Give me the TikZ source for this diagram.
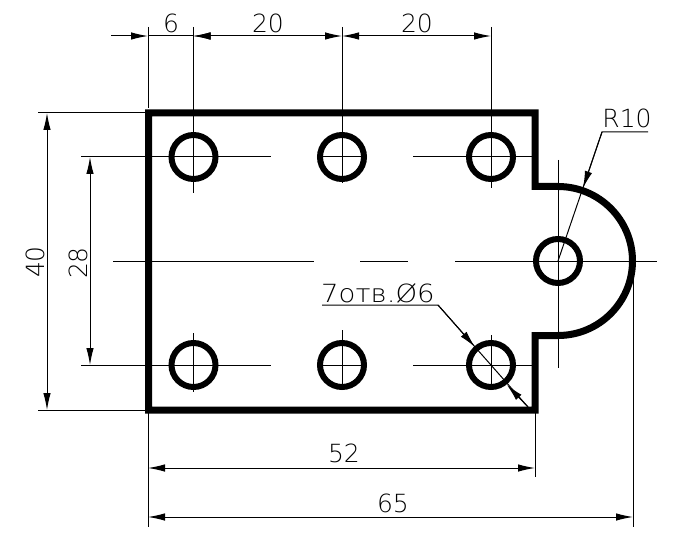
\documentclass[tikz,border=0pt]{standalone}
\usepackage{fontspec}
\setmainfont{DejaVu Sans ExtraLight}
\usepackage{tikz}
\usetikzlibrary{arrows.meta}

\tikzset{
  part/.style={line width=7pt, miter limit=10},
  hole/.style={line width=6pt},
  thin line/.style={line width=1pt},
  dim/.style={line width=1pt, {Latex[length=17pt,width=7.5pt]}-{Latex[length=17pt,width=7.5pt]}},
  lbl/.style={inner sep=0pt, font=\fontsize{25}{25}\selectfont}
}

\begin{document}
\begin{tikzpicture}[x=1pt, y=-1pt]
\useasboundingbox (0,0) rectangle (680,548);

% outline
\draw[part] (148.5,113) -- (535,113) -- (535,186.5) -- (558,186.5) arc (-90:90:74.5) -- (535,335.5) -- (535,410) -- (148.5,410) -- cycle;

% holes
\foreach \hx/\hy/\hname in {193.5/157/ha, 342/157/hb, 491/157/hc, 193.5/365/hd, 342/365/he, 491/365/hf, 558/261/hg} {
  \coordinate (\hname) at (\hx,\hy);
  \draw[hole] (\hname) circle (22);
}

% center lines
\draw[thin line] (81,157) -- (271,157);
\draw[thin line] (413,157) -- (535,157);
\draw[thin line] (318,157) -- (366,157);
\draw[thin line] (81,365) -- (271,365);
\draw[thin line] (413,365) -- (535,365);
\draw[thin line] (318,365) -- (366,365);
\draw[thin line] (113,261) -- (314,261);
\draw[thin line] (360,261) -- (408,261);
\draw[thin line] (455,261) -- (657,261);
\draw[thin line] (193.5,27) -- (193.5,193);
\draw[thin line] (342,27) -- (342,183);
\draw[thin line] (491,27) -- (491,188);
\draw[thin line] (193.5,333) -- (193.5,392);
\draw[thin line] (342,330) -- (342,390);
\draw[thin line] (491,335) -- (491,390);
\draw[thin line] (558,160) -- (558,368);

% extension lines
\draw[thin line] (148,27) -- (148,108);
\draw[thin line] (38,113) -- (145,113);
\draw[thin line] (38,410) -- (145,410);
\draw[thin line] (148,413) -- (148,527);
\draw[thin line] (535,413) -- (535,477);
\draw[thin line] (633,261) -- (633,527);

% dimensions
\coordinate (top6a) at (148,36);
\coordinate (top6b) at (193.5,36);
\coordinate (top20a) at (342,36);
\coordinate (top20b) at (491,36);
\draw[thin line, -{Latex[length=17pt,width=7.5pt]}] (111,36) -- (top6a);
\draw[thin line, -{Latex[length=17pt,width=7.5pt]}] (213,36) -- (top6b);
\draw[thin line] (top6a) -- (top6b);
\draw[dim] (top6b) -- (top20a);
\draw[dim] (top20a) -- (top20b);
\draw[dim] (47,113) -- (47,410);
\draw[dim] (90,157) -- (90,365);
\draw[dim] (148,468) -- (535,468);
\draw[dim] (148,517) -- (633,517);

% leaders
\coordinate (rbend) at (602,132);
\draw[thin line] (hg) -- (rbend) -- (648,132);
\draw[thin line, -{Latex[length=17pt,width=7.5pt]}] (rbend) -- (583,188);
\coordinate (dbend) at (438,305);
\draw[thin line] (322,305) -- (dbend) -- (528,407);
\draw[thin line, -{Latex[length=17pt,width=7.5pt]}] (dbend) -- (475,347);
\draw[thin line, -{Latex[length=17pt,width=7.5pt]}] (528,407) -- (507,385);

% labels
\node[lbl] (dsix) at (171,23) {6};
\node[lbl] (dtwentya) at (268,23) {20};
\node[lbl] (dtwentyb) at (417,23) {20};
\node[lbl, rotate=90] (dforty) at (35,262) {40};
\node[lbl, rotate=90] (dtwentyeight) at (78,263) {28};
\node[lbl] (dfiftytwo) at (344,453) {52};
\node[lbl] (dsixtyfive) at (393,503) {65};
\node[lbl] (radius) at (627,118) {R10};
\node[lbl, anchor=base west, xscale=1.1] (holes) at (321,302) {7отв.Ø6};
\end{tikzpicture}
\end{document}
